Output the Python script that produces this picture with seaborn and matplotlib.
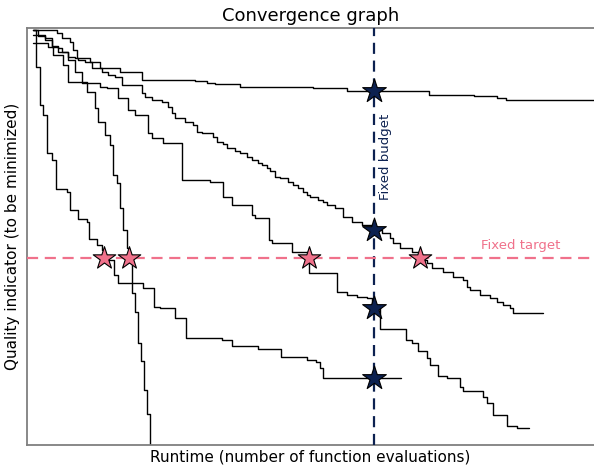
import numpy as np
import pandas as pd
import seaborn as sns
import matplotlib.pyplot as plt

# values, in picture units (x to the right, y downwards)
X0, Y0 = 27, 445

run_a_x = [33, 57, 62, 70, 73, 77, 90, 100, 120, 142, 195, 207, 215, 240, 313, 347, 429, 474, 497, 506, 594]
run_a_y = [30, 33, 38, 42, 50, 58, 62, 68, 72, 80, 81, 83, 84, 87, 88, 91, 95, 96, 98, 100, 100]

run_b_x = [33, 45, 52, 58, 62, 68, 75, 78, 85, 92, 102, 108, 115, 122, 142, 145, 152, 162, 168, 172,
           175, 185, 193, 197, 202, 213, 217, 223, 227, 235, 240, 247, 252, 258, 262, 267, 270, 275,
           280, 288, 293, 298, 303, 307, 310, 318, 323, 327, 335, 343, 352, 362, 372, 382, 390, 393,
           400, 412, 420, 427, 432, 443, 453, 463, 467, 470, 480, 490, 497, 503, 510, 513, 543]
run_b_y = [35, 38, 47, 48, 52, 57, 58, 60, 62, 68, 72, 75, 77, 85, 93, 97, 100, 102, 107, 113,
           118, 122, 125, 132, 133, 137, 142, 144, 148, 151, 153, 157, 160, 163, 165, 168, 171, 177,
           178, 182, 185, 188, 192, 195, 197, 200, 202, 205, 208, 217, 222, 225, 230, 233, 238, 243,
           248, 252, 260, 263, 268, 272, 277, 280, 287, 290, 295, 298, 302, 305, 308, 313, 313]

run_c_x = [33, 48, 53, 63, 68, 87, 100, 107, 118, 128, 135, 148, 152, 163, 182, 210, 223, 232, 252,
           255, 269, 272, 292, 309, 337, 347, 357, 367, 372, 380, 406, 412, 418, 427, 430, 438, 447,
           460, 463, 483, 487, 493, 507, 517, 529]
run_c_y = [43, 47, 55, 65, 82, 83, 87, 88, 98, 110, 115, 133, 138, 143, 180, 182, 197, 205, 215,
           218, 240, 243, 252, 273, 292, 295, 297, 298, 308, 329, 340, 343, 351, 358, 365, 376, 378,
           387, 391, 397, 403, 415, 426, 428, 428]

run_d_x = [33, 36, 40, 43, 47, 52, 56, 67, 70, 78, 87, 89, 97, 102, 104, 114, 118, 143, 154, 160,
           175, 186, 222, 232, 258, 281, 307, 316, 320, 323, 401]
run_d_y = [30, 67, 105, 115, 153, 160, 189, 192, 210, 219, 222, 239, 245, 250, 260, 275, 283, 288,
           307, 308, 318, 338, 340, 346, 349, 357, 360, 362, 368, 378, 378]

run_e_x = [33, 38, 45, 52, 58, 68, 75, 82, 87, 95, 98, 105, 110, 113, 117, 120, 123, 127, 129,
           132, 135, 138, 141, 144, 147, 150]
run_e_y = [30, 36, 40, 46, 52, 60, 72, 83, 92, 108, 122, 135, 145, 175, 183, 208, 230, 248, 260,
           293, 312, 343, 361, 390, 414, 445]

budget_px = 374
target_px = 258

runs = {
    "a": (run_a_x, run_a_y),
    "b": (run_b_x, run_b_y),
    "c": (run_c_x, run_c_y),
    "d": (run_d_x, run_d_y),
    "e": (run_e_x, run_e_y),
}

budget = budget_px - X0
target = Y0 - target_px

rows = []
for name, (xs, ys) in runs.items():
    for x, y in zip(xs, ys):
        rows.append((name, x - X0, Y0 - y))
df = pd.DataFrame(rows, columns=["run", "evals", "quality"])

# stars: value at the fixed budget, first time the fixed target is hit
budget_pts, target_pts = [], []
for name, g in df.groupby("run"):
    ev, q = g["evals"].values, g["quality"].values
    if ev[-1] >= budget:
        budget_pts.append((budget, q[ev <= budget][-1]))
    hit = np.where(q <= target)[0]
    if len(hit):
        target_pts.append((ev[hit[0]], target))
budget_pts = pd.DataFrame(budget_pts, columns=["evals", "quality"])
target_pts = pd.DataFrame(target_pts, columns=["evals", "quality"])

navy = "#0c2150"
pink = "#f0718b"

sns.set_style("white")
plt.rcParams["text.color"] = "black"
plt.rcParams["axes.labelcolor"] = "black"
fig = plt.figure(figsize=(5.94, 4.65), dpi=100)
ax = fig.add_axes([27 / 594, 20 / 465, 567 / 594, 417 / 465])

for name, g in df.groupby("run"):
    sns.lineplot(data=g, x="evals", y="quality", ax=ax, color="black", lw=1.0,
                 drawstyle="steps-post", estimator=None, sort=False)

ax.axvline(budget, color=navy, ls=(0, (5, 3)), lw=1.6, zorder=3)
ax.axhline(target, color=pink, ls=(0, (5, 3)), lw=1.6, zorder=3)

sns.scatterplot(data=budget_pts, x="evals", y="quality", ax=ax, marker="*", s=320,
                color=navy, edgecolor="black", linewidth=0.8, zorder=5)
sns.scatterplot(data=target_pts, x="evals", y="quality", ax=ax, marker="*", s=290,
                color=pink, edgecolor="black", linewidth=0.8, zorder=5)

ax.text(budget + 12, Y0 - 157, "Fixed budget", rotation=90, color=navy, fontsize=9.5,
        ha="center", va="center")
ax.text(521 - X0, target + 13, "Fixed target", color=pink, fontsize=9.5,
        ha="center", va="center")

ax.set_xlim(0, 567)
ax.set_ylim(0, 417)
ax.set_xticks([])
ax.set_yticks([])
for side in ["left", "top", "bottom"]:
    ax.spines[side].set_color("#7f7f7f")
    ax.spines[side].set_linewidth(1.3)
ax.spines["right"].set_visible(False)

ax.set_title("Convergence graph", fontsize=13, pad=5, color="black")
ax.set_xlabel("Runtime (number of function evaluations)", fontsize=11, labelpad=3)
ax.set_ylabel("Quality indicator (to be minimized)", fontsize=11, labelpad=5)

fig.savefig("out.png", dpi=100)
